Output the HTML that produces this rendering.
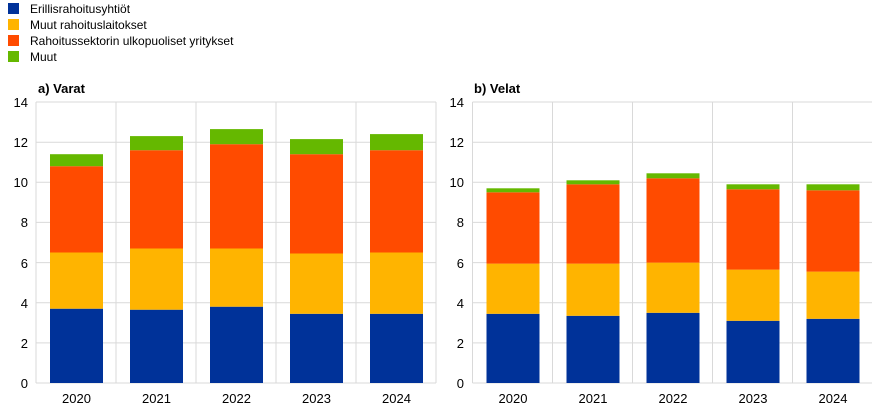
<!DOCTYPE html>
<html><head><meta charset="utf-8"><style>body{margin:0;background:#fff}svg{display:block}</style></head><body>
<svg width="872" height="411" xmlns="http://www.w3.org/2000/svg" font-family="Liberation Sans, Arial, sans-serif">
<g font-size="12" fill="#000">
<rect x="8" y="3" width="11" height="11" fill="#003299"/><text x="30" y="13">Erillisrahoitusyhtiöt</text>
<rect x="8" y="19" width="11" height="11" fill="#FFB400"/><text x="30" y="29">Muut rahoituslaitokset</text>
<rect x="8" y="35" width="11" height="11" fill="#FF4B00"/><text x="30" y="45">Rahoitussektorin ulkopuoliset yritykset</text>
<rect x="8" y="51" width="11" height="11" fill="#65B800"/><text x="30" y="61">Muut</text>
</g>
<text x="38" y="93" font-size="13" font-weight="bold">a) Varat</text>
<text x="474" y="93" font-size="13" font-weight="bold">b) Velat</text>
<g stroke="#d9d9d9" stroke-width="1">
<line x1="36" x2="436" y1="383" y2="383"/><line x1="36" x2="436" y1="342.9" y2="342.9"/><line x1="36" x2="436" y1="302.7" y2="302.7"/><line x1="36" x2="436" y1="262.6" y2="262.6"/><line x1="36" x2="436" y1="222.4" y2="222.4"/><line x1="36" x2="436" y1="182.3" y2="182.3"/><line x1="36" x2="436" y1="142.2" y2="142.2"/><line x1="36" x2="436" y1="102" y2="102"/>
<line x1="36" x2="36" y1="102" y2="383"/><line x1="116" x2="116" y1="102" y2="383"/><line x1="196" x2="196" y1="102" y2="383"/><line x1="276" x2="276" y1="102" y2="383"/><line x1="356" x2="356" y1="102" y2="383"/><line x1="436" x2="436" y1="102" y2="383"/>
<line x1="472.5" x2="872" y1="383" y2="383"/><line x1="472.5" x2="872" y1="342.9" y2="342.9"/><line x1="472.5" x2="872" y1="302.7" y2="302.7"/><line x1="472.5" x2="872" y1="262.6" y2="262.6"/><line x1="472.5" x2="872" y1="222.4" y2="222.4"/><line x1="472.5" x2="872" y1="182.3" y2="182.3"/><line x1="472.5" x2="872" y1="142.2" y2="142.2"/><line x1="472.5" x2="872" y1="102" y2="102"/>
<line x1="472.5" x2="472.5" y1="102" y2="383"/><line x1="552.5" x2="552.5" y1="102" y2="383"/><line x1="632.5" x2="632.5" y1="102" y2="383"/><line x1="712.5" x2="712.5" y1="102" y2="383"/><line x1="792.5" x2="792.5" y1="102" y2="383"/>
</g>
<g font-size="13" text-anchor="end">
<text x="28" y="388">0</text><text x="28" y="348">2</text><text x="28" y="308">4</text><text x="28" y="268">6</text><text x="28" y="227">8</text><text x="28" y="187">10</text><text x="28" y="147">12</text><text x="28" y="107">14</text>
<text x="464" y="388">0</text><text x="464" y="348">2</text><text x="464" y="308">4</text><text x="464" y="268">6</text><text x="464" y="227">8</text><text x="464" y="187">10</text><text x="464" y="147">12</text><text x="464" y="107">14</text>
</g>
<g>
<rect x="50" y="308.7" width="53" height="74.3" fill="#003299"/><rect x="50" y="252.5" width="53" height="56.2" fill="#FFB400"/><rect x="50" y="166.2" width="53" height="86.3" fill="#FF4B00"/><rect x="50" y="154.2" width="53" height="12" fill="#65B800"/>
<rect x="130" y="309.7" width="53" height="73.3" fill="#003299"/><rect x="130" y="248.5" width="53" height="61.2" fill="#FFB400"/><rect x="130" y="150.2" width="53" height="98.3" fill="#FF4B00"/><rect x="130" y="136.1" width="53" height="14.1" fill="#65B800"/>
<rect x="210" y="306.7" width="53" height="76.3" fill="#003299"/><rect x="210" y="248.5" width="53" height="58.2" fill="#FFB400"/><rect x="210" y="144.2" width="53" height="104.3" fill="#FF4B00"/><rect x="210" y="129.1" width="53" height="15.1" fill="#65B800"/>
<rect x="290" y="313.8" width="53" height="69.2" fill="#003299"/><rect x="290" y="253.5" width="53" height="60.3" fill="#FFB400"/><rect x="290" y="154.2" width="53" height="99.3" fill="#FF4B00"/><rect x="290" y="139.1" width="53" height="15.1" fill="#65B800"/>
<rect x="370" y="313.8" width="53" height="69.2" fill="#003299"/><rect x="370" y="252.5" width="53" height="61.3" fill="#FFB400"/><rect x="370" y="150.2" width="53" height="102.3" fill="#FF4B00"/><rect x="370" y="134.1" width="53" height="16.1" fill="#65B800"/>
<rect x="486.5" y="313.8" width="53" height="69.2" fill="#003299"/><rect x="486.5" y="263.6" width="53" height="50.2" fill="#FFB400"/><rect x="486.5" y="192.3" width="53" height="71.3" fill="#FF4B00"/><rect x="486.5" y="188.3" width="53" height="4" fill="#65B800"/>
<rect x="566.5" y="315.8" width="53" height="67.2" fill="#003299"/><rect x="566.5" y="263.6" width="53" height="52.2" fill="#FFB400"/><rect x="566.5" y="184.3" width="53" height="79.3" fill="#FF4B00"/><rect x="566.5" y="180.3" width="53" height="4" fill="#65B800"/>
<rect x="646.5" y="312.8" width="53" height="70.2" fill="#003299"/><rect x="646.5" y="262.6" width="53" height="50.2" fill="#FFB400"/><rect x="646.5" y="178.3" width="53" height="84.3" fill="#FF4B00"/><rect x="646.5" y="173.3" width="53" height="5" fill="#65B800"/>
<rect x="726.5" y="320.8" width="53" height="62.2" fill="#003299"/><rect x="726.5" y="269.6" width="53" height="51.2" fill="#FFB400"/><rect x="726.5" y="189.3" width="53" height="80.3" fill="#FF4B00"/><rect x="726.5" y="184.3" width="53" height="5" fill="#65B800"/>
<rect x="806.5" y="318.8" width="53" height="64.2" fill="#003299"/><rect x="806.5" y="271.6" width="53" height="47.2" fill="#FFB400"/><rect x="806.5" y="190.3" width="53" height="81.3" fill="#FF4B00"/><rect x="806.5" y="184.3" width="53" height="6" fill="#65B800"/>
</g>
<g font-size="13" text-anchor="middle">
<text x="76.5" y="403">2020</text><text x="156.5" y="403">2021</text><text x="236.5" y="403">2022</text><text x="316.5" y="403">2023</text><text x="396.5" y="403">2024</text>
<text x="513" y="403">2020</text><text x="593" y="403">2021</text><text x="673" y="403">2022</text><text x="753" y="403">2023</text><text x="833" y="403">2024</text>
</g>
</svg>
</body></html>
